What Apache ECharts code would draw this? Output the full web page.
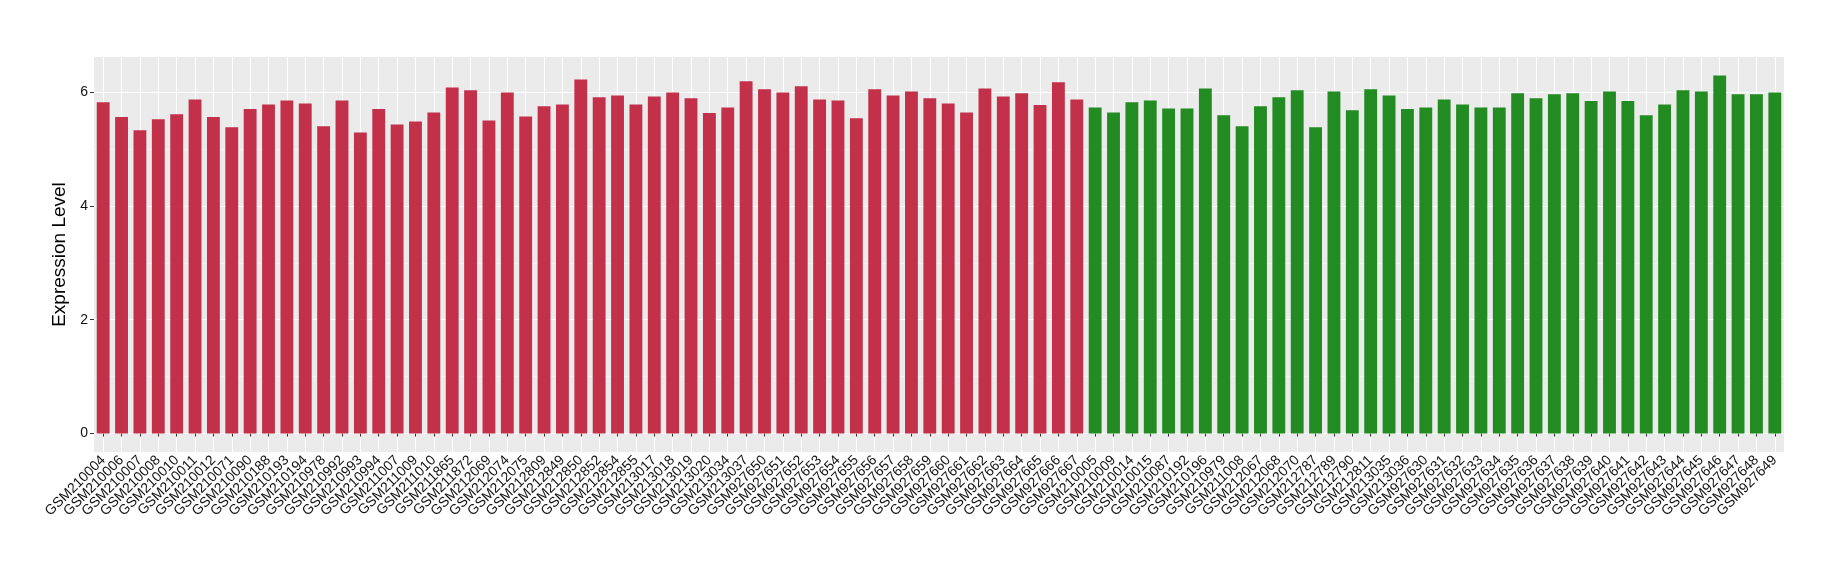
<!DOCTYPE html>
<html>
<head>
<meta charset="utf-8">
<title>Expression Level</title>
<script src="https://cdn.jsdelivr.net/npm/echarts@6/dist/echarts.min.js"></script>
<style>
  html, body { margin: 0; padding: 0; background: #fff; }
  #chart { width: 1840px; height: 580px; }
</style>
</head>
<body>
<div id="chart"></div>
<script>
// first group (red)
const redSamples = [
  'GSM210004', 'GSM210006', 'GSM210007', 'GSM210008', 'GSM210010', 'GSM210011',
  'GSM210012', 'GSM210071', 'GSM210090', 'GSM210188', 'GSM210193', 'GSM210194',
  'GSM210978', 'GSM210992', 'GSM210993', 'GSM210994', 'GSM211007', 'GSM211009',
  'GSM211010', 'GSM211865', 'GSM211872', 'GSM212069', 'GSM212074', 'GSM212075',
  'GSM212809', 'GSM212849', 'GSM212850', 'GSM212852', 'GSM212854', 'GSM212855',
  'GSM213017', 'GSM213018', 'GSM213019', 'GSM213020', 'GSM213034', 'GSM213037',
  'GSM927650', 'GSM927651', 'GSM927652', 'GSM927653', 'GSM927654', 'GSM927655',
  'GSM927656', 'GSM927657', 'GSM927658', 'GSM927659', 'GSM927660', 'GSM927661',
  'GSM927662', 'GSM927663', 'GSM927664', 'GSM927665', 'GSM927666', 'GSM927667'
]
const redValues = [
  5.82, 5.56, 5.33, 5.52, 5.61, 5.87, 5.56, 5.38, 5.70, 5.78, 5.85, 5.80,
  5.40, 5.85, 5.29, 5.70, 5.43, 5.48, 5.64, 6.08, 6.03, 5.50, 5.99, 5.57,
  5.75, 5.78, 6.22, 5.91, 5.94, 5.78, 5.92, 5.99, 5.89, 5.63, 5.73, 6.19,
  6.05, 5.99, 6.10, 5.87, 5.85, 5.54, 6.05, 5.94, 6.01, 5.89, 5.80, 5.64,
  6.06, 5.92, 5.98, 5.77, 6.17, 5.87
]

// second group (green)
const greenSamples = [
  'GSM210005', 'GSM210009', 'GSM210014', 'GSM210015', 'GSM210087', 'GSM210192',
  'GSM210196', 'GSM210979', 'GSM211008', 'GSM212067', 'GSM212068', 'GSM212070',
  'GSM212787', 'GSM212789', 'GSM212790', 'GSM212811', 'GSM213035', 'GSM213036',
  'GSM927630', 'GSM927631', 'GSM927632', 'GSM927633', 'GSM927634', 'GSM927635',
  'GSM927636', 'GSM927637', 'GSM927638', 'GSM927639', 'GSM927640', 'GSM927641',
  'GSM927642', 'GSM927643', 'GSM927644', 'GSM927645', 'GSM927646', 'GSM927647',
  'GSM927648', 'GSM927649'
]
const greenValues = [
  5.73, 5.64, 5.82, 5.85, 5.71, 5.71, 6.06, 5.59, 5.40, 5.75, 5.91, 6.03,
  5.38, 6.01, 5.68, 6.05, 5.94, 5.70, 5.73, 5.87, 5.78, 5.73, 5.73, 5.98,
  5.89, 5.96, 5.98, 5.84, 6.01, 5.84, 5.59, 5.78, 6.03, 6.01, 6.29, 5.96,
  5.96, 5.99
]

const yTicks = [0, 2, 4, 6]

const RED = '#C3304A'
const GREEN = '#228B22'

const categories = redSamples.concat(greenSamples)
const barData = redValues.map(v => ({ value: v, itemStyle: { color: RED } }))
  .concat(greenValues.map(v => ({ value: v, itemStyle: { color: GREEN } })))

const chart = echarts.init(document.getElementById('chart'), null, { renderer: 'canvas' })

const option = {
  backgroundColor: '#fff',
  animation: false,
  grid: {
    left: 94,
    right: 56,
    top: 57,
    bottom: 128,
    show: true,
    backgroundColor: '#EBEBEB',
    borderWidth: 0,
  },
  xAxis: {
    type: 'category',
    data: categories,
    boundaryGap: true,
    axisLine: { show: false },
    axisTick: {
      show: true,
      alignWithLabel: true,
      length: 3,
      lineStyle: { color: '#333', width: 1 },
    },
    axisLabel: {
      interval: 0,
      rotate: 45,
      margin: 6,
      fontSize: 14,
      fontFamily: 'Liberation Sans, Arial, sans-serif',
      color: '#111',
    },
    splitLine: {
      show: true,
      alignWithLabel: true,
      lineStyle: { color: '#fff', width: 1.1 },
    },
  },
  yAxis: {
    type: 'value',
    min: -0.323,
    max: 6.615,
    splitNumber: 3,
    name: 'Expression Level',
    nameLocation: 'middle',
    nameGap: 19,
    nameTextStyle: {
      fontSize: 19,
      color: '#000',
      fontFamily: 'Liberation Sans, Arial, sans-serif',
    },
    axisLine: { show: false },
    axisTick: {
      show: true,
      length: 4,
      customValues: yTicks,
      lineStyle: { color: '#333', width: 1 },
    },
    axisLabel: {
      customValues: yTicks,
      margin: 6,
      fontSize: 14,
      fontFamily: 'Liberation Sans, Arial, sans-serif',
      color: '#111',
    },
    splitLine: {
      show: true,
      lineStyle: { color: '#fff', width: 1.1 },
    },
    minorTick: { show: false, splitNumber: 2 },
    minorSplitLine: {
      show: true,
      lineStyle: { color: '#F7F7F7', width: 0.6 },
    },
  },
  series: [
    {
      type: 'bar',
      data: barData,
      barWidth: '70%',
    },
  ],
}

chart.setOption(option)
</script>
</body>
</html>
